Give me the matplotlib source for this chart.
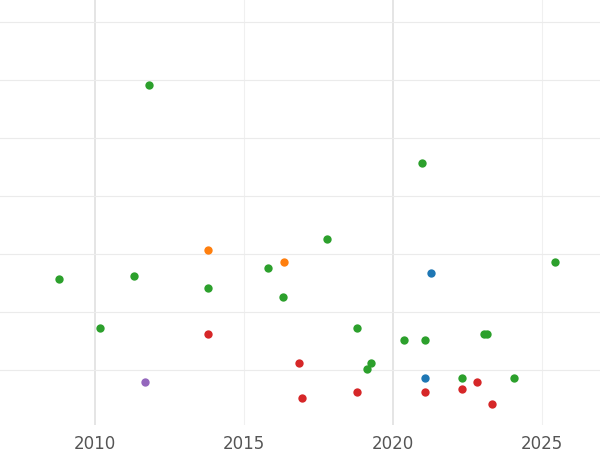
import matplotlib
matplotlib.use("Agg")
import matplotlib.pyplot as plt

# values (y in arbitrary grid units)
green_x = [2011.81, 2020.97, 2017.79, 2008.79, 2011.31, 2015.81, 2013.79, 2016.31, 2025.44,
           2010.17, 2018.79, 2020.37, 2021.07, 2023.05, 2023.15, 2019.26, 2019.13, 2022.32, 2024.06]
green_y = [5.91, 4.57, 3.26, 2.57, 2.62, 2.76, 2.41, 2.26, 2.86,
           1.72, 1.72, 1.52, 1.52, 1.62, 1.62, 1.12, 1.02, 0.86, 0.86]
orange_x = [2013.79, 2016.34]
orange_y = [3.07, 2.86]
blue_x = [2021.28, 2021.07]
blue_y = [2.67, 0.86]
red_x = [2013.79, 2016.85, 2016.95, 2018.79, 2021.07, 2022.32, 2022.82, 2023.32]
red_y = [1.62, 1.12, 0.52, 0.62, 0.62, 0.67, 0.78, 0.41]
purple_x = [2011.68]
purple_y = [0.78]

series = [
    (green_x, green_y, "#2ca02c"),
    (orange_x, orange_y, "#ff7f0e"),
    (blue_x, blue_y, "#1f77b4"),
    (red_x, red_y, "#d62728"),
    (purple_x, purple_y, "#9467bd"),
]

fig = plt.figure(figsize=(6, 4.5), dpi=100)
ax = fig.add_axes([0, 0.056, 1, 0.944])
for xs, ys, c in series:
    ax.scatter(xs, ys, s=36, color=c, zorder=3, linewidths=0)

ax.set_xlim(2006.81, 2026.95)
ax.set_ylim(0.05, 7.38)
ax.set_xticks([2010, 2015, 2020, 2025])
ax.set_xticks([2015, 2025], minor=False)
ax.set_xticks([2010, 2015, 2020, 2025])
ax.set_yticks(range(1, 8))
ax.tick_params(axis="y", left=False, labelleft=False)
ax.tick_params(axis="x", bottom=False, labelsize=12, labelcolor="#555555", pad=4)
ax.grid(axis="y", color="#ebebeb", lw=0.8)
for x, c in [(2010, "#e0e0e0"), (2020, "#e0e0e0"), (2015, "#f0f0f0"), (2025, "#f0f0f0")]:
    ax.axvline(x, color=c, lw=1.2 if x % 10 == 0 else 0.8, zorder=0)
for s in ax.spines.values():
    s.set_visible(False)

fig.savefig("out.png")
